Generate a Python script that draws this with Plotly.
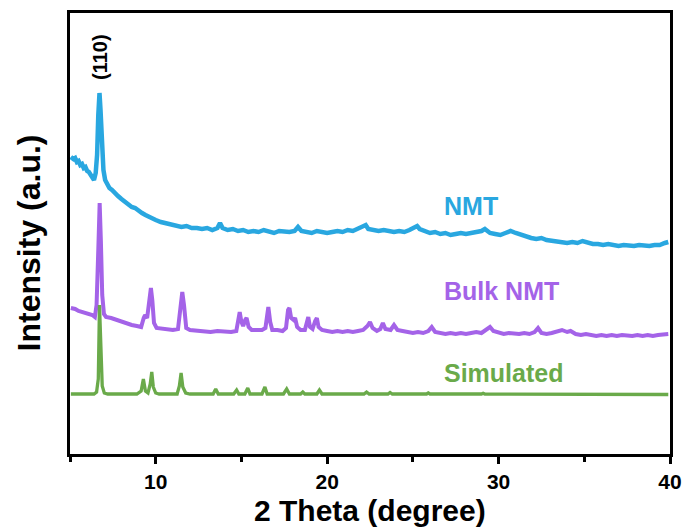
import plotly.graph_objects as go

# ---- Data (intensity in arbitrary units) ----
nmt_x = [5.05, 5.2, 5.3, 5.4, 5.5, 5.6, 5.7, 5.8, 5.9, 6.0, 6.1, 6.2, 6.3, 6.4, 6.5, 6.58, 6.65, 6.72, 6.78, 6.85,
         6.95, 7.05, 7.15, 7.3, 7.45, 7.6, 7.8, 8.0, 8.2, 8.4, 8.6, 8.8, 9.0, 9.2, 9.4, 9.6, 9.8, 10.0, 10.3, 10.6,
         10.9, 11.2, 11.5, 11.8, 12.1, 12.4, 12.7, 13.0, 13.3, 13.6, 13.75, 13.9, 14.2, 14.5, 14.8, 15.1, 15.4, 15.7, 16.0, 16.3,
         16.6, 16.9, 17.2, 17.5, 17.8, 18.1, 18.3, 18.5, 18.8, 19.1, 19.4, 19.7, 20.0, 20.3, 20.6, 20.9, 21.2, 21.5, 21.8, 22.1,
         22.25, 22.4, 22.7, 23.0, 23.3, 23.6, 23.9, 24.2, 24.5, 24.8, 25.1, 25.25, 25.4, 25.7, 26.0, 26.3, 26.6, 26.9, 27.2, 27.5,
         27.8, 28.1, 28.4, 28.7, 29.0, 29.2, 29.5, 29.8, 30.1, 30.4, 30.7, 31.0, 31.3, 31.6, 31.9, 32.2, 32.5, 32.8, 33.1, 33.4,
         33.7, 34.0, 34.3, 34.6, 34.9, 35.2, 35.5, 35.8, 36.1, 36.4, 36.7, 37.0, 37.3, 37.6, 37.9, 38.2, 38.5, 38.8, 39.1, 39.4,
         39.7, 39.9]
nmt_y = [297, 295, 296, 292, 293, 289, 290, 286, 287, 283, 282, 279, 278, 274, 281, 299, 339, 361, 344, 304,
         284, 274, 270, 266, 264, 261, 258, 255, 252, 250, 247, 246, 243, 241, 239, 237, 235, 234, 232, 231,
         229, 229, 227, 228, 226, 226, 225, 226, 224, 226, 231, 226, 224, 225, 223, 224, 222, 223, 222, 224,
         222, 221, 223, 222, 222, 223, 227, 223, 222, 221, 223, 222, 221, 222, 223, 222, 224, 223, 225, 227,
         229, 225, 224, 223, 224, 223, 222, 223, 222, 224, 226, 228, 225, 223, 221, 222, 220, 221, 219, 220,
         221, 220, 221, 222, 223, 225, 221, 220, 219, 221, 223, 221, 219, 217, 216, 215, 216, 214, 213, 212,
         212, 211, 212, 211, 213, 211, 210, 210, 209, 210, 209, 208, 209, 208, 208, 209, 208, 208, 209, 209,
         211, 212]

bulk_x = [5.05, 5.3, 5.5, 5.7, 5.9, 6.1, 6.3, 6.45, 6.55, 6.65, 6.73, 6.8, 6.88, 6.98, 7.1, 7.4, 7.7, 8.0, 8.3, 8.6,
          8.9, 9.15, 9.3, 9.38, 9.5, 9.62, 9.72, 9.8, 9.9, 10.05, 10.4, 10.7, 11.0, 11.3, 11.45, 11.55, 11.65, 11.78, 12.0, 12.4,
          12.8, 13.2, 13.6, 14.0, 14.4, 14.7, 14.82, 14.9, 15.0, 15.1, 15.22, 15.3, 15.42, 15.6, 15.9, 16.2, 16.4, 16.5, 16.57, 16.68,
          16.8, 17.1, 17.4, 17.6, 17.72, 17.8, 17.9, 18.05, 18.13, 18.25, 18.45, 18.7, 18.82, 18.9, 19.0, 19.15, 19.3, 19.4, 19.5, 19.7,
          20.0, 20.3, 20.6, 20.9, 21.2, 21.5, 21.8, 22.1, 22.35, 22.5, 22.65, 22.9, 23.1, 23.25, 23.4, 23.7, 23.9, 24.1, 24.4, 24.7,
          25.0, 25.3, 25.6, 25.9, 26.1, 26.3, 26.6, 26.9, 27.2, 27.5, 27.8, 28.1, 28.4, 28.7, 29.0, 29.3, 29.5, 29.7, 30.0, 30.3,
          30.6, 30.9, 31.2, 31.5, 31.8, 32.1, 32.3, 32.5, 32.8, 33.1, 33.4, 33.7, 34.0, 34.2, 34.5, 34.8, 35.1, 35.4, 35.7, 36.0,
          36.3, 36.6, 36.9, 37.2, 37.5, 37.8, 38.1, 38.4, 38.7, 39.0, 39.3, 39.6, 39.9]
bulk_y = [146, 145, 143, 142, 141, 140, 139, 137, 149, 204, 251, 214, 159, 140, 137, 136, 134, 132, 131, 129,
          128, 127, 136, 139, 136, 158, 166, 154, 131, 126, 125, 124, 124, 125, 149, 162, 149, 126, 124, 123,
          123, 122, 123, 122, 122, 123, 136, 142, 132, 128, 134, 136, 127, 124, 124, 124, 126, 144, 147, 132,
          124, 124, 123, 126, 144, 146, 136, 134, 136, 127, 124, 124, 134, 137, 127, 125, 133, 136, 127, 124,
          123, 122, 123, 122, 123, 122, 123, 124, 128, 132, 126, 123, 125, 131, 125, 124, 129, 124, 123, 122,
          121, 122, 121, 123, 127, 122, 121, 120, 121, 120, 121, 120, 121, 122, 121, 124, 127, 123, 121, 120,
          121, 120, 120, 121, 120, 122, 126, 121, 120, 121, 122, 124, 122, 123, 120, 119, 120, 119, 118, 119,
          118, 119, 118, 119, 118, 118, 119, 118, 119, 118, 119, 119, 120]

sim_x = [5.05, 6.4, 6.55, 6.65, 6.72, 6.8, 6.88, 7.0, 7.2, 8.9, 9.15, 9.28, 9.4, 9.55, 9.68, 9.77, 9.86, 10.0, 10.2, 11.25,
         11.38, 11.48, 11.58, 11.75, 12.0, 13.35, 13.5, 13.65, 14.55, 14.72, 14.85, 15.2, 15.37, 15.5, 16.2, 16.37, 16.5, 17.45, 17.64, 17.8,
         18.45, 18.58, 18.7, 19.4, 19.55, 19.7, 22.15, 22.3, 22.45, 23.55, 23.67, 23.8, 25.8, 25.9, 26.0, 29.0, 29.1, 29.2, 39.9]
sim_y = [60, 60, 62, 75, 149, 100, 68, 61, 60, 60, 63, 75, 63, 61, 70, 82, 67, 61, 60, 60,
         68, 81, 67, 61, 60, 60, 65, 60, 60, 64, 60, 60, 66, 60, 60, 67, 60, 60, 65, 60,
         60, 62, 60, 60, 64, 60, 60, 62, 60, 60, 61.5, 60, 60, 61, 60, 60, 60.8, 60, 59.5]

x_ticks = [10, 20, 30, 40]
x_tick_labels = ["10", "20", "30", "40"]

labels = ["NMT", "Bulk NMT", "Simulated"]
label_y = [248, 163, 81]

C_NMT = "#29a7e0"
C_BULK = "#a463e8"
C_SIM = "#6aaa4a"

FONT = "Liberation Sans, Arial, sans-serif"

fig = go.Figure()
fig.add_trace(go.Scatter(x=nmt_x, y=nmt_y, mode="lines", line=dict(color=C_NMT, width=4.5), showlegend=False))
fig.add_trace(go.Scatter(x=bulk_x, y=bulk_y, mode="lines", line=dict(color=C_BULK, width=4), showlegend=False))
fig.add_trace(go.Scatter(x=sim_x, y=sim_y, mode="lines", line=dict(color=C_SIM, width=3.3), showlegend=False))

for txt, yy, col in zip(labels, label_y, [C_NMT, C_BULK, C_SIM]):
    fig.add_annotation(x=26.7, y=yy, xref="x", yref="y", text=txt, showarrow=False,
                       xanchor="left", yanchor="middle",
                       font=dict(family=FONT, size=25, color=col, weight="bold"))

fig.add_annotation(x=6.75, y=397, xref="x", yref="y", text="(110)", showarrow=False, textangle=-90,
                   xanchor="center", yanchor="middle",
                   font=dict(family=FONT, size=20, color="black", weight="bold"))

fig.add_annotation(x=0.5, y=-0.127, xref="paper", yref="paper", text="2 Theta (degree)", showarrow=False,
                   xanchor="center", yanchor="middle",
                   font=dict(family=FONT, size=30, color="black", weight="bold"))
fig.add_annotation(x=-0.068, y=0.478, xref="paper", yref="paper", text="Intensity (a.u.)", showarrow=False,
                   textangle=-90, xanchor="center", yanchor="middle",
                   font=dict(family=FONT, size=32, color="black", weight="bold"))

fig.update_xaxes(range=[5, 40], tickvals=x_ticks, ticktext=x_tick_labels, ticks="outside", ticklen=7, tickwidth=2.5,
                 tickcolor="black", showline=True, linecolor="black", linewidth=3, mirror=True, showgrid=False,
                 zeroline=False, automargin=False,
                 tickfont=dict(family=FONT, size=21, color="black", weight="bold"),
                 minor=dict(tickvals=[5, 15, 25, 35], ticks="outside", ticklen=5, tickwidth=2.5, tickcolor="black"))
fig.update_yaxes(range=[0, 441], showticklabels=False, ticks="", showline=True, linecolor="black", linewidth=3,
                 mirror=True, showgrid=False, zeroline=False, automargin=False)

fig.update_layout(width=686, height=529, margin=dict(l=70, r=16, t=13, b=75, autoexpand=False),
                  paper_bgcolor="white", plot_bgcolor="white")

fig.write_html("out.html", config={"displayModeBar": False},
               post_script="document.body.style.margin='0';document.body.style.overflow='hidden';")
